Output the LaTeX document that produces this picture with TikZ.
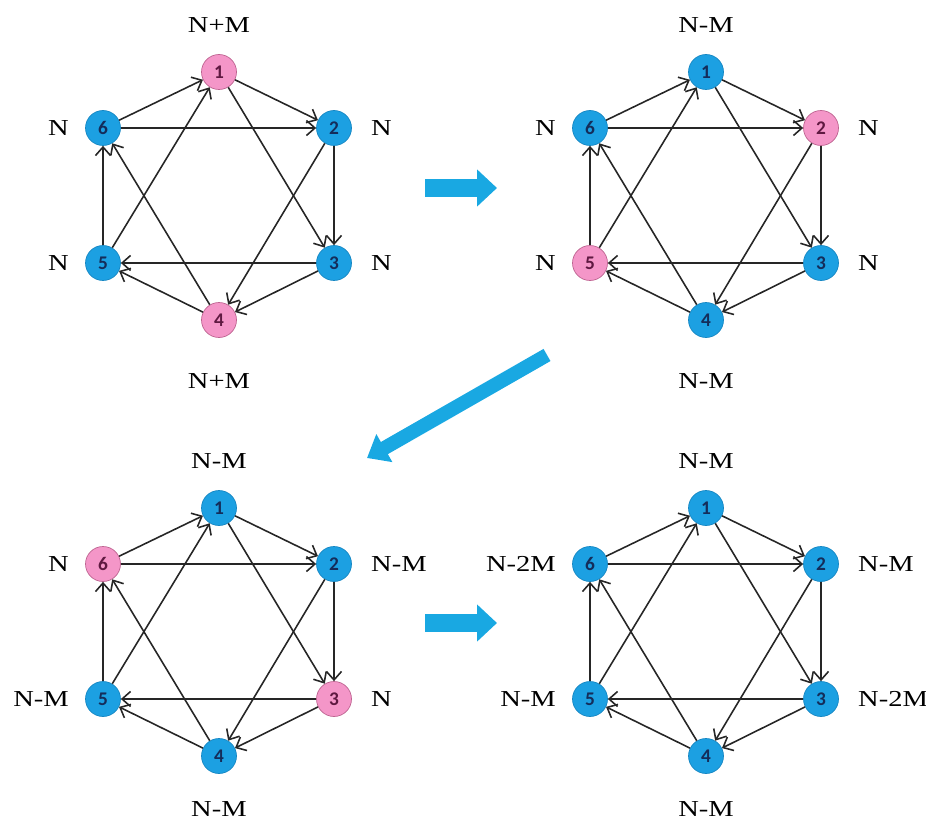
\documentclass[tikz,border=0pt]{standalone}
\usepackage{fontspec}
\setmainfont{Liberation Serif}
\newfontfamily\valfont[FakeStretch=1.25]{Liberation Serif}
\newfontfamily\numfont{Carlito}
\usetikzlibrary{positioning,arrows.meta}
\definecolor{nodeblue}{RGB}{28,160,226}
\definecolor{blueedge}{RGB}{22,135,195}
\definecolor{bluetext}{RGB}{20,45,90}
\definecolor{nodepink}{RGB}{244,150,200}
\definecolor{pinkedge}{RGB}{190,100,145}
\definecolor{pinktext}{RGB}{95,25,65}
\definecolor{arrowblue}{RGB}{25,168,226}

\begin{document}
\begin{tikzpicture}[x=0.02cm, y=-0.02cm,
  blue node/.style={circle, draw=blueedge, fill=nodeblue, minimum size=7mm,
                    inner sep=0pt, text=bluetext,
                    font=\numfont\bfseries\fontsize{11}{12}\selectfont},
  pink node/.style={circle, draw=pinkedge, fill=nodepink, minimum size=7mm,
                    inner sep=0pt, text=pinktext,
                    font=\numfont\bfseries\fontsize{11}{12}\selectfont},
  link/.style={-{Straight Barb[length=1.7mm, width=3mm]}, line width=0.9pt,
               black!85},
  val/.style={inner sep=0pt, font=\valfont\fontsize{13}{15}\selectfont},
  flow/.style={-{Triangle[length=4mm, width=7.2mm]}, line width=3.6mm,
               arrowblue},
]
\useasboundingbox (0,0) rectangle (926,824);

% ---- the four hexagons: name / centre / colour of nodes 1..6 ----
\foreach \g/\cx/\cy/\cols in {a/219/196/{pink,blue,blue,pink,blue,blue},
                               b/706/196/{blue,pink,blue,blue,pink,blue},
                               c/219/632/{blue,blue,pink,blue,blue,pink},
                               d/706/632/{blue,blue,blue,blue,blue,blue}}
  \foreach \c [count=\i] in \cols {
    \pgfmathsetmacro\dx{{0,115,115,0,-116,-116}[\i-1]}
    \pgfmathsetmacro\dy{{-124,-68,67,124,67,-68}[\i-1]}
    \node[\c\space node] (\g\i) at (\cx+\dx, \cy+\dy) {\i};
  }

% ---- directed links, same in every hexagon ----
\foreach \g in {a,b,c,d}
  \foreach \s/\t in {1/2,1/3,2/3,2/4,3/4,3/5,4/5,4/6,5/6,5/1,6/1,6/2}
    \draw[link] (\g\s) -- (\g\t);

% ---- values beside the nodes ----
\foreach \n/\t in {a1/N+M, b1/N-M, c1/N-M, d1/N-M}
  \node[val, above=4.2mm of \n] (v\n) {\t};
\foreach \n/\t in {a4/N+M, b4/N-M}
  \node[val, below=7mm of \n] (v\n) {\t};
\foreach \n/\t in {c4/N-M, d4/N-M}
  \node[val, below=5.4mm of \n] (v\n) {\t};
\foreach \n/\t in {a2/N, a3/N, b2/N, b3/N, c2/N-M, c3/N, d2/N-M, d3/N-2M}
  \node[val, right=3.8mm of \n] (v\n) {\t};
\foreach \n/\t in {a5/N, a6/N, b5/N, b6/N, c5/N-M, c6/N, d5/N-M, d6/N-2M}
  \node[val, left=3.2mm of \n] (v\n) {\t};

% ---- big arrows between the steps ----
\coordinate (s1) at (425,188);
\coordinate (t1) at (497,188);
\coordinate (s2) at (547,355);
\coordinate (t2) at (367,458);
\coordinate (s3) at (425,623);
\coordinate (t3) at (497,623);
\draw[flow] (s1) -- (t1);
\draw[flow, line width=2.8mm, -{Triangle[length=4mm, width=6.2mm]}] (s2) -- (t2);
\draw[flow] (s3) -- (t3);

\end{tikzpicture}
\end{document}
